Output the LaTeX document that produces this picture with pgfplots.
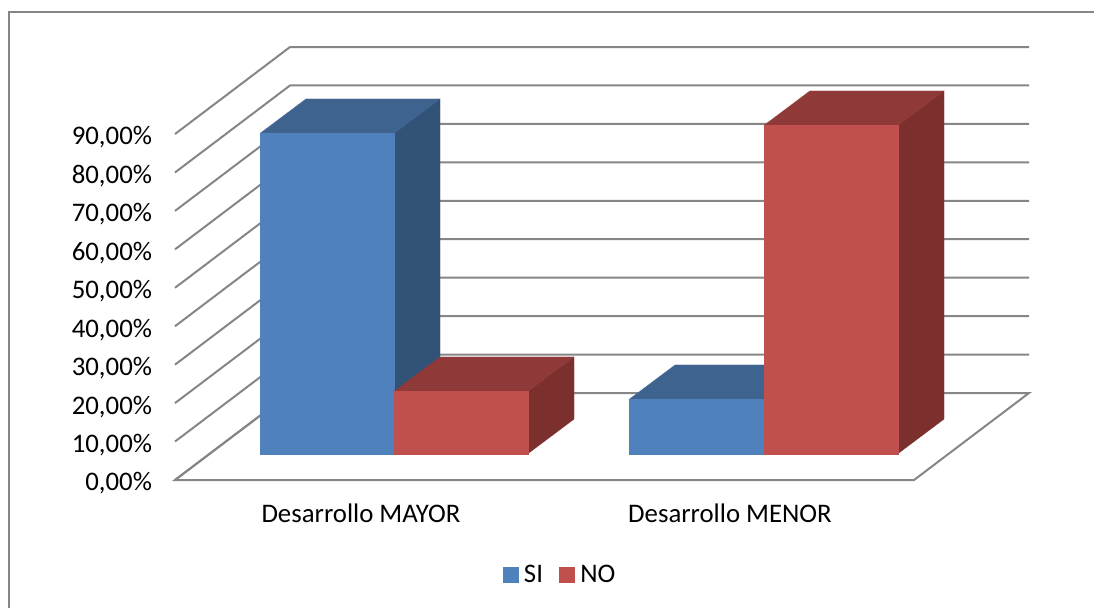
\documentclass[border=0pt]{standalone}
\usepackage{fontspec}
\setmainfont{Carlito}
\usepackage{pgfplots}
\pgfplotsset{compat=1.18}
\definecolor{wall}{HTML}{868686}
\definecolor{siFront}{HTML}{4F81BD}
\definecolor{siTop}{HTML}{3E638F}
\definecolor{siSide}{HTML}{325278}
\definecolor{noFront}{HTML}{C0504D}
\definecolor{noTop}{HTML}{8F3A38}
\definecolor{noSide}{HTML}{7B302E}

% Oblique box: #1 left x, #2 right x, #3 value, #4 colour prefix.
% The bar stands 6.86 units in front of the floor edge and is 46 wide / 8.97 high in depth.
\newcommand{\drawbox}[4]{%
  \addplot[fill=#4Side, draw=#4Side, line width=0.2pt, forget plot] coordinates
    {(#2,6.86) (#2+46,6.86+8.97) (#2+46,6.86+8.97+#3) (#2,6.86+#3)} --cycle;
  \addplot[fill=#4Top, draw=#4Top, line width=0.2pt, forget plot] coordinates
    {(#1,6.86+#3) (#2,6.86+#3) (#2+46,6.86+8.97+#3) (#1+46,6.86+8.97+#3)} --cycle;
  \addplot[fill=#4Front, draw=#4Front, line width=0.2pt, forget plot] coordinates
    {(#1,6.86) (#2,6.86) (#2,6.86+#3) (#1,6.86+#3)} --cycle;
}

\begin{document}
\begin{tikzpicture}[x=1pt,y=1pt]
\path[use as bounding box, fill=white] (0,0) rectangle (1094,608);
\draw[wall, line width=2pt] (8.5,0) -- (8.5,596) -- (1094,596);
\begin{axis}[
  at={(175pt,128pt)}, anchor=south west,
  scale only axis, width=854pt, height=433pt,
  xmin=175, xmax=1029, ymin=0, ymax=112.64,
  clip=false,
  axis line style={draw=none},
  major tick length=0pt,
  xtick={361,730},
  xticklabels={Desarrollo MAYOR,Desarrollo MENOR},
  xticklabel pos=lower,
  ytick={0,10,...,90},
  ytick pos=left,
  tick label style={font=\fontsize{26.8}{31}\selectfont, text=black},
  yticklabel style={xshift=-19.5pt, yshift=-3.5pt, /pgf/number format/.cd, fixed, fixed zerofill, precision=2, use comma, assume math mode=true},
  yticklabel={\pgfmathprintnumber{\tick}\%},
  xticklabel style={yshift=-20pt},
  legend columns=2,
  legend style={at={(axis cs:560,-24.7)}, anchor=center, draw=none, fill=none,
    font=\fontsize{26.8}{31}\selectfont, /tikz/every even column/.append style={column sep=14pt}},
]
% floor and side/back walls
\addplot[wall, line width=2pt, forget plot] coordinates
  {(175,0) (914,0) (1029,22.63) (290,22.63)} --cycle;
\pgfplotsinvokeforeach{10,20,...,90}{
  \addplot[wall, line width=2pt, forget plot] coordinates
    {(175,#1) (290,#1+22.63) (1029,#1+22.63)};
}
\addplot[wall, line width=2pt, forget plot] coordinates {(175,0) (290,22.63)};

\drawbox{260}{394}{83.3}{si}
\drawbox{394}{528}{16.2}{no}
\drawbox{629}{764}{14.1}{si}
\drawbox{764}{898}{85.4}{no}

\addlegendimage{legend image code/.code={\fill[siFront] (0pt,-7.5pt) rectangle (15pt,7.5pt);}}
\addlegendentry{\hspace{4pt}SI}
\addlegendimage{legend image code/.code={\fill[noFront] (0pt,-7.5pt) rectangle (15pt,7.5pt);}}
\addlegendentry{\hspace{4pt}NO}
\end{axis}
\end{tikzpicture}
\end{document}
